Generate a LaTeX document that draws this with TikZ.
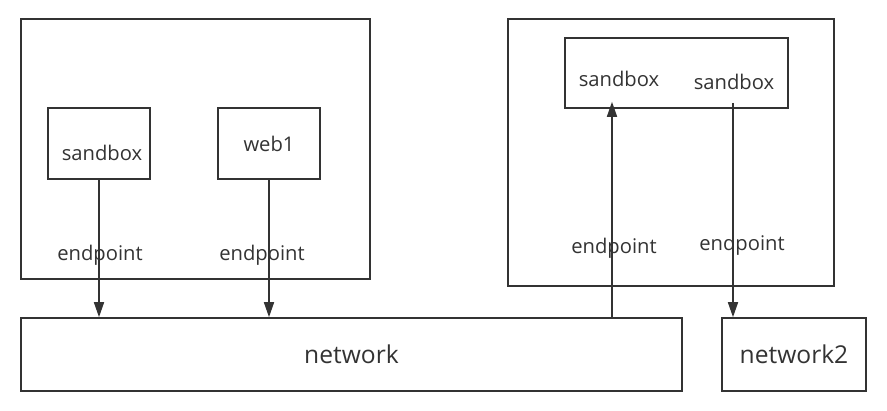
\documentclass[tikz,border=0pt]{standalone}
\usepackage{fontspec}
\setmainfont{Open Sans}
\usepackage{tikz}
\usetikzlibrary{arrows.meta,positioning}
\definecolor{ink}{HTML}{333333}
\tikzstyle{hostbox}=[rectangle, draw=ink, line width=0.9pt, inner sep=0pt]
\tikzstyle{box1}=[rectangle, draw=ink, line width=0.9pt, inner sep=0pt, minimum width=2.04cm, minimum height=1.42cm, text=ink, font=\fontsize{11.5}{14}\selectfont]
\tikzstyle{netbox}=[rectangle, draw=ink, line width=0.9pt, inner sep=0pt, minimum height=1.46cm, text=ink, font=\fontsize{14}{17}\selectfont]
\tikzstyle{lbl}=[inner sep=0pt, text=ink, font=\fontsize{11.5}{14}\selectfont]
\tikzstyle{arrow1}=[draw=ink, line width=0.9pt, -{Triangle[length=3mm,width=2mm]}]

\begin{document}
\begin{tikzpicture}[x=0.02cm,y=-0.02cm]
\useasboundingbox (0,0) rectangle (887,411);
%Hosts
\node[hostbox, minimum width=6.98cm, minimum height=5.2cm] (host1) at (195.5,149){};
\node[hostbox, minimum width=6.52cm, minimum height=5.34cm] (host2) at (671,152.5){};
%Row One
\node[box1] (sb1) at (99,143.5){};
\node[lbl] (sb1t) at (102,153){sandbox};
\node[box1] (web) at (269,143.5){web1};
\node[hostbox, minimum width=4.46cm, minimum height=1.4cm] (sbgrp) at (676.5,73){};
\node[lbl] (sb2t) at (619,79){sandbox};
\node[lbl] (sb3t) at (734,82){sandbox};
%Row Two
\node[netbox, minimum width=13.22cm] (net) at (351.5,354.5){network};
\node[netbox, minimum width=2.88cm] (net2) at (794,354.5){network2};
%Arrows
\coordinate (a1) at (612,318);
\coordinate (a2) at (733,103);
\draw[arrow1] (sb1.south) -- (sb1.south |- net.north);
\draw[arrow1] (web.south) -- (web.south |- net.north);
\draw[arrow1, shorten >=-0.14cm] (a1) -- (a1 |- sbgrp.south);
\draw[arrow1] (a2) -- (a2 |- net2.north);
%Endpoints
\node[lbl] (ep1) at (100,255){endpoint};
\node[lbl] (ep2) at (262,255){endpoint};
\node[lbl] (ep3) at (614,248){endpoint};
\node[lbl] (ep4) at (742,245){endpoint};
\end{tikzpicture}
\end{document}
